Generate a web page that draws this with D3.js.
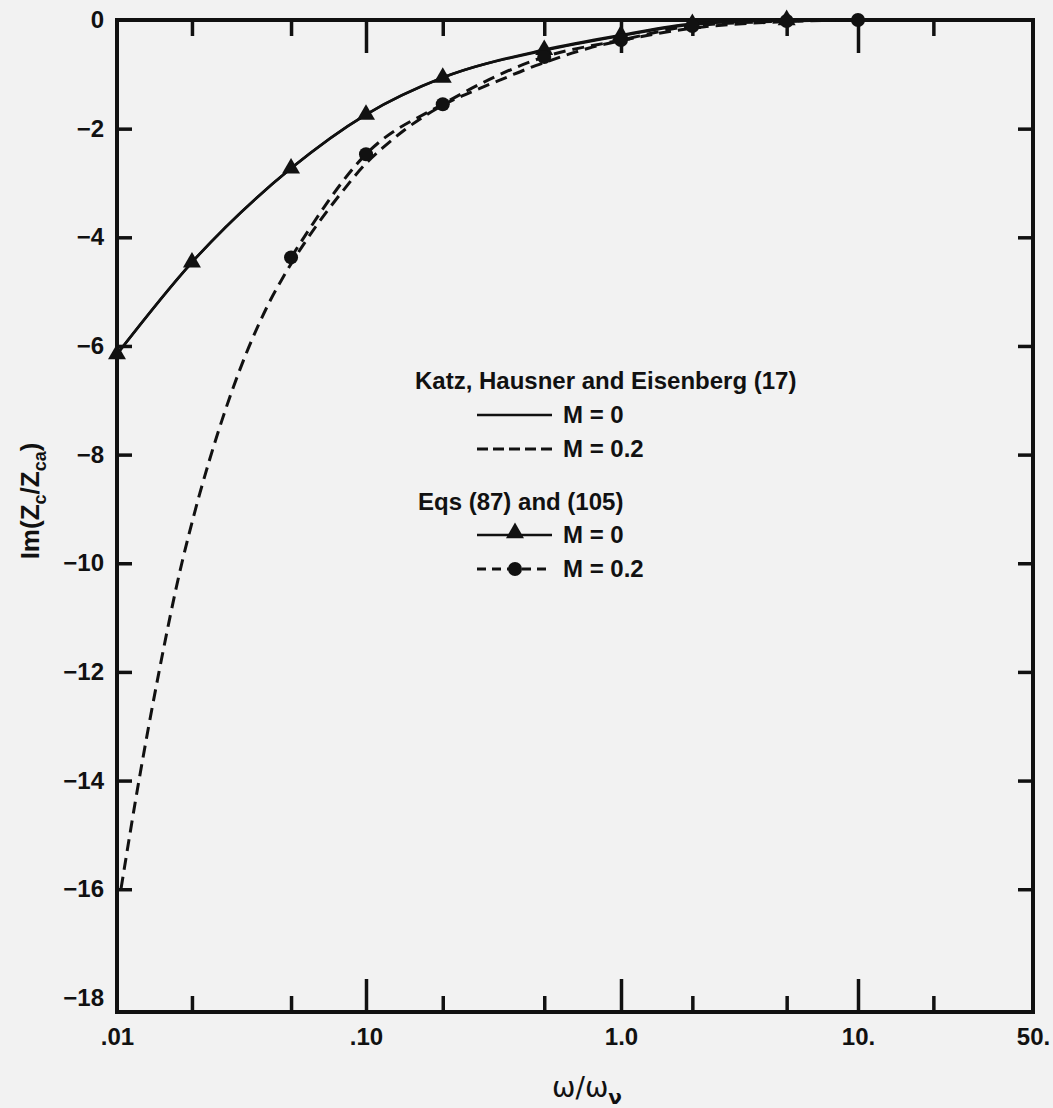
<!DOCTYPE html>
<html>
<head>
<meta charset="utf-8">
<script src="https://cdn.jsdelivr.net/npm/d3@7"></script>
<style>
  html, body { margin: 0; padding: 0; background: #f2f2f2; }
  svg { display: block; }
  text { font-family: "Liberation Sans", Arial, Helvetica, sans-serif; font-weight: bold; fill: #111; }
</style>
</head>
<body>
<script>
// ---------- data ----------
const xMajorTicks = [0.01, 0.1, 1, 10, 50];
const xMajorLabels = [".01", ".10", "1.0", "10.", "50."];
const xMinorTicks = [0.02, 0.05, 0.2, 0.5, 2, 5, 20];
const xInnerMajor = [0.1, 1, 10];
const yTickVals = [0, -2, -4, -6, -8, -10, -12, -14, -16, -18];
const yTickLabels = ["0", "\u22122", "\u22124", "\u22126", "\u22128", "\u221210", "\u221212", "\u221214", "\u221216", "\u221218"];
const yInnerTicks = [-2, -4, -6, -8, -10, -12, -14, -16];

// Katz, Hausner and Eisenberg (17), M = 0 (solid)
const katzM0_w  = [0.01, 0.02, 0.05, 0.1, 0.2, 0.5, 1, 2, 5];
const katzM0_im = [-6.15, -4.46, -2.73, -1.74, -1.06, -0.56, -0.29, -0.08, 0];
// Katz, Hausner and Eisenberg (17), M = 0.2 (dashed)
const katzM02_w  = [0.01038, 0.01224, 0.01469, 0.01823, 0.01952, 0.02152, 0.02352, 0.02643, 0.02937, 0.03309, 0.0367, 0.04139, 0.04573, 0.0511, 0.06269, 0.07995, 0.10045, 0.11586, 0.14197, 0.20149, 0.28253, 0.35853, 0.43936, 0.51117, 0.64215, 0.74495, 1, 2, 5, 10];
const katzM02_im = [-15.99, -14.01, -12.04, -9.99, -9.44, -8.71, -8.1, -7.36, -6.75, -6.13, -5.65, -5.15, -4.79, -4.42, -3.81, -3.17, -2.63, -2.36, -2.02, -1.56, -1.25, -1.05, -0.88, -0.77, -0.61, -0.52, -0.38, -0.15, -0.03, 0];
// Eqs (87) and (105), M = 0 (solid, triangles)
const eqsM0_w  = [0.01, 0.02, 0.05, 0.1, 0.2, 0.5, 1, 2, 5];
const eqsM0_im = [-6.15, -4.46, -2.73, -1.74, -1.06, -0.55, -0.28, -0.07, 0];
// Eqs (87) and (105), M = 0.2 (dashed, circles)
const eqsM02_w  = [0.05, 0.1, 0.2, 0.5, 1, 2, 5, 10];
const eqsM02_im = [-4.37, -2.47, -1.55, -0.68, -0.37, -0.11, -0.02, 0];

// ---------- layout ----------
const W = 1053, H = 1108;
const L = 117, R = 1033, T = 20, B = 1012;
const ink = "#111";

const svg = d3.select("body").append("svg").attr("width", W).attr("height", H);

const x = d3.scaleLog().domain([0.01, 0.1, 1, 10, 50]).range([117, 366, 621, 858, R]);
const y = d3.scaleLinear().domain([-18.26, 0]).range([B, T]);

function styleAxis(g) {
  g.select(".domain").remove();
  g.selectAll(".tick line").attr("stroke", ink).attr("stroke-width", 3.5);
  g.selectAll(".tick text").attr("fill", ink).style("font-size", "24px").style("font-weight", "bold");
}

// top ticks (inward)
svg.append("g").attr("transform", `translate(0,${T})`)
  .call(d3.axisTop(x).tickValues(xInnerMajor).tickSize(-33).tickFormat(""))
  .call(styleAxis);
svg.append("g").attr("transform", `translate(0,${T})`)
  .call(d3.axisTop(x).tickValues(xMinorTicks).tickSize(-16).tickFormat(""))
  .call(styleAxis);
// bottom ticks (inward)
svg.append("g").attr("transform", `translate(0,${B})`)
  .call(d3.axisBottom(x).tickValues(xInnerMajor).tickSize(-33).tickFormat(""))
  .call(styleAxis);
svg.append("g").attr("transform", `translate(0,${B})`)
  .call(d3.axisBottom(x).tickValues(xMinorTicks).tickSize(-16).tickFormat(""))
  .call(styleAxis);
// bottom labels
svg.append("g").attr("transform", `translate(0,${B})`)
  .call(d3.axisBottom(x).tickValues(xMajorTicks).tickSize(0).tickPadding(16)
    .tickFormat((d, i) => xMajorLabels[i]))
  .call(styleAxis);

// left ticks & labels
svg.append("g").attr("transform", `translate(${L},0)`)
  .call(d3.axisLeft(y).tickValues(yInnerTicks).tickSize(-15).tickFormat(""))
  .call(styleAxis);
svg.append("g").attr("transform", `translate(${L},0)`)
  .call(d3.axisLeft(y).tickValues(yTickVals).tickSize(0).tickPadding(13)
    .tickFormat((d, i) => yTickLabels[i]))
  .call(styleAxis);
// right ticks
svg.append("g").attr("transform", `translate(${R},0)`)
  .call(d3.axisRight(y).tickValues(yInnerTicks).tickSize(-15).tickFormat(""))
  .call(styleAxis);

// frame
svg.append("rect").attr("x", L).attr("y", T).attr("width", R - L).attr("height", B - T)
  .attr("fill", "none").attr("stroke", ink).attr("stroke-width", 4);

// ---------- curves ----------
const line = d3.line().x(d => x(d[0])).y(d => y(d[1])).curve(d3.curveMonotoneX);
const zip = (a, b) => a.map((v, i) => [v, b[i]]);

const dash = "12,7";
svg.append("path").datum(zip(katzM0_w, katzM0_im)).attr("d", line)
  .attr("fill", "none").attr("stroke", ink).attr("stroke-width", 2.6);
svg.append("path").datum(zip(eqsM0_w, eqsM0_im)).attr("d", line)
  .attr("fill", "none").attr("stroke", ink).attr("stroke-width", 2.6);
svg.append("path").datum(zip(katzM02_w, katzM02_im)).attr("d", line)
  .attr("fill", "none").attr("stroke", ink).attr("stroke-width", 3).attr("stroke-dasharray", dash);
svg.append("path").datum(zip(eqsM02_w, eqsM02_im)).attr("d", line)
  .attr("fill", "none").attr("stroke", ink).attr("stroke-width", 3).attr("stroke-dasharray", dash);

// markers
const tri = d3.symbol().type(d3.symbolTriangle).size(140);
const circ = d3.symbol().type(d3.symbolCircle).size(155);
svg.append("g").selectAll("path").data(zip(eqsM0_w, eqsM0_im)).join("path")
  .attr("d", tri).attr("transform", d => `translate(${x(d[0])},${y(d[1])})`).attr("fill", ink);
svg.append("g").selectAll("path").data(zip(eqsM02_w, eqsM02_im)).join("path")
  .attr("d", circ).attr("transform", d => `translate(${x(d[0])},${y(d[1])})`).attr("fill", ink);

// ---------- legend ----------
const lg = svg.append("g");
lg.append("text").attr("x", 415).attr("y", 389).style("font-size", "24px").text("Katz, Hausner and Eisenberg (17)");
lg.append("line").attr("x1", 477).attr("x2", 552).attr("y1", 415).attr("y2", 415).attr("stroke", ink).attr("stroke-width", 2.6);
lg.append("text").attr("x", 563).attr("y", 423).style("font-size", "24px").text("M = 0");
lg.append("line").attr("x1", 477).attr("x2", 552).attr("y1", 449).attr("y2", 449).attr("stroke", ink).attr("stroke-width", 3).attr("stroke-dasharray", "11,5");
lg.append("text").attr("x", 563).attr("y", 457).style("font-size", "24px").text("M = 0.2");

lg.append("text").attr("x", 418).attr("y", 510).style("font-size", "24px").text("Eqs (87) and (105)");
lg.append("line").attr("x1", 477).attr("x2", 552).attr("y1", 535).attr("y2", 535).attr("stroke", ink).attr("stroke-width", 2.6);
lg.append("path").attr("d", tri).attr("transform", "translate(515,533)").attr("fill", ink);
lg.append("text").attr("x", 563).attr("y", 543).style("font-size", "24px").text("M = 0");
lg.append("line").attr("x1", 477).attr("x2", 552).attr("y1", 569).attr("y2", 569).attr("stroke", ink).attr("stroke-width", 3).attr("stroke-dasharray", "9,6");
lg.append("path").attr("d", circ).attr("transform", "translate(515,569)").attr("fill", ink);
lg.append("text").attr("x", 563).attr("y", 577).style("font-size", "24px").text("M = 0.2");

// ---------- axis titles ----------
const xt = svg.append("text").attr("x", 587).attr("y", 1097).attr("text-anchor", "middle")
  .style("font-family", "'DejaVu Sans', sans-serif").style("font-weight", "normal").style("font-size", "28px");
xt.append("tspan").text("\u03c9/\u03c9");
xt.append("tspan").attr("dy", 7).style("font-size", "20px").style("font-weight", "bold").text("\u03bd");

const yt = svg.append("text").attr("transform", "translate(39,501) rotate(-90)").attr("text-anchor", "middle")
  .style("font-size", "26px");
yt.append("tspan").text("Im(Z");
yt.append("tspan").attr("dy", 7).style("font-size", "18px").text("c");
yt.append("tspan").attr("dy", -7).text("/Z");
yt.append("tspan").attr("dy", 7).style("font-size", "18px").text("ca");
yt.append("tspan").attr("dy", -7).text(")");
</script>
</body>
</html>
